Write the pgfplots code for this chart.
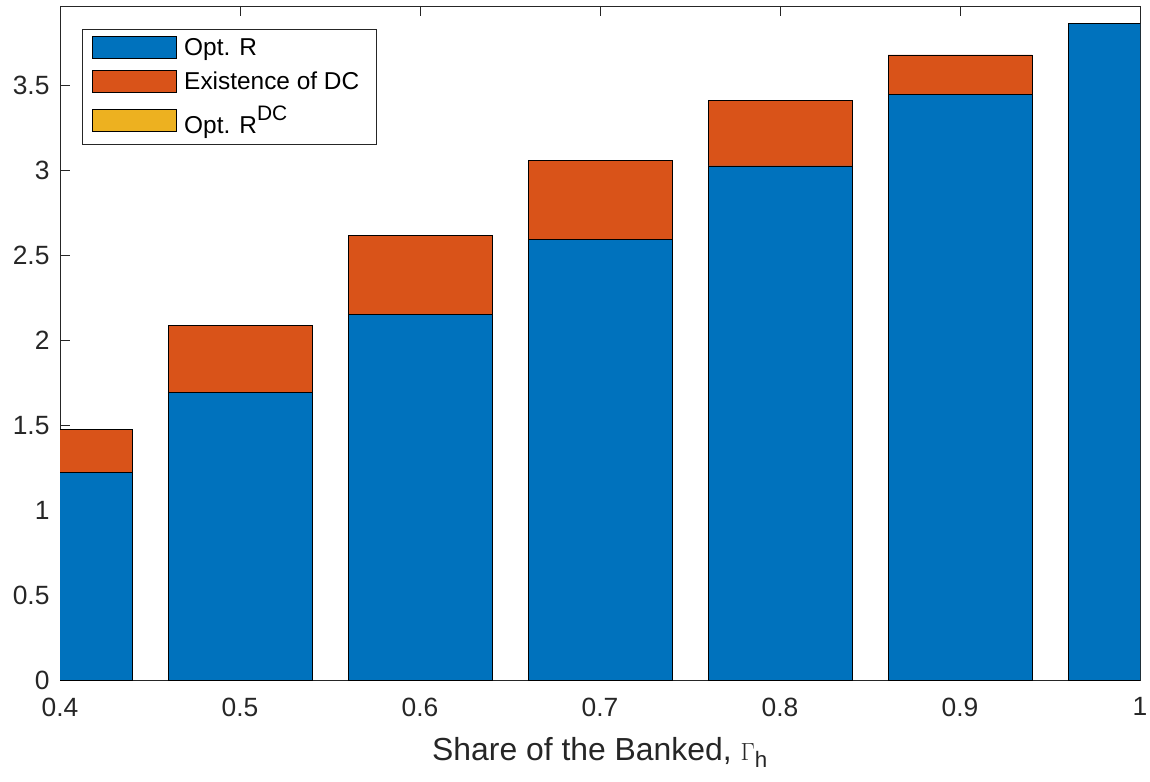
\documentclass[border=0pt]{standalone}
\usepackage{fontspec}
\setmainfont{Liberation Sans}
\usepackage{pgfplots}
\pgfplotsset{compat=1.18}
\definecolor{mblue}{RGB}{0,114,189}
\definecolor{morange}{RGB}{217,83,25}
\definecolor{myellow}{RGB}{237,177,32}
\definecolor{axgray}{RGB}{38,38,38}
\begin{document}
\begin{tikzpicture}
\begin{axis}[
  scale only axis,
  width=1080bp, height=674bp,
  xmin=0.4, xmax=1.0,
  ymin=0, ymax=3.969,
  ybar stacked,
  bar width=0.08,
  xtick={0.4,0.5,0.6,0.7,0.8,0.9,1.0},
  xticklabels={0.4,0.5,0.6,0.7,0.8,0.9,1},
  ytick={0,0.5,1,1.5,2,2.5,3,3.5},
  yticklabels={0,0.5,1,1.5,2,2.5,3,3.5},
  tick align=inside,
  major tick length=10bp,
  tick style={axgray, line width=0.8pt},
  axis line style={axgray, line width=0.8pt},
  ticklabel style={font=\fontsize{26.5}{30}\selectfont, text=axgray},
  xticklabel style={yshift=-14bp},
  yticklabel style={xshift=-7bp},
  xlabel={Share of the Banked, $\Gamma_{\mathrm{h}}$},
  xlabel style={font=\fontsize{32}{36}\selectfont, text=axgray, yshift=-14bp},
  legend cell align=left,
  legend style={
    at={(0.0204,0.966)}, anchor=north west,
    font=\fontsize{24.5}{28}\selectfont,
    draw=axgray, line width=0.8pt,
    inner xsep=10bp, inner ysep=7bp,
    row sep=11bp,
    nodes={inner xsep=7bp},
  },
  legend image code/.code={\draw[#1, line width=0.8pt] (0bp,-11bp) rectangle (84bp,11bp);},
  every axis plot/.append style={draw=black, line width=0.8pt},
]
\coordinate (sw) at (rel axis cs:0,0);
\coordinate (ne) at (rel axis cs:1,1);
\addplot[fill=mblue] coordinates {(0.4,1.225) (0.5,1.696) (0.6,2.151) (0.7,2.595) (0.8,3.027) (0.9,3.449) (1.0,3.865)};
\addplot[fill=morange] coordinates {(0.4,0.253) (0.5,0.391) (0.6,0.466) (0.7,0.467) (0.8,0.387) (0.9,0.232) (1.0,0)};
\addplot[fill=myellow] coordinates {(0.4,0) (0.5,0) (0.6,0) (0.7,0) (0.8,0) (0.9,0) (1.0,0)};
\legend{Opt. R, Existence of DC, Opt. R$^{\raisebox{4bp}{\fontsize{21}{22}\selectfont DC}}$}
\end{axis}
\pgfresetboundingbox
\path ([shift={(-60bp,-101bp)}]sw) rectangle ([shift={(10bp,6bp)}]ne);
\end{tikzpicture}
\end{document}
